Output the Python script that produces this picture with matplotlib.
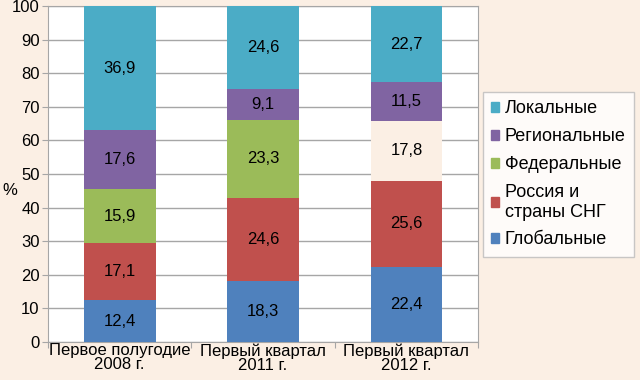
import matplotlib
matplotlib.use('Agg')
from matplotlib import pyplot as plt
from matplotlib.patches import Patch
import numpy as np

plt.rcParams['font.family'] = ['Liberation Sans', 'DejaVu Sans']

categories = ['Первое полугодие\n2008 г.', 'Первый квартал\n2011 г.', 'Первый квартал\n2012 г.']
series_names = ['Глобальные', 'Россия и\nстраны СНГ', 'Федеральные', 'Региональные', 'Локальные']
global_vals = [12.4, 18.3, 22.4]
russia_vals = [17.1, 24.6, 25.6]
federal_vals = [15.9, 23.3, 17.8]
regional_vals = [17.6, 9.1, 11.5]
local_vals = [36.9, 24.6, 22.7]
series = [global_vals, russia_vals, federal_vals, regional_vals, local_vals]

colors = ['#4F81BD', '#C0504D', '#9BBB59', '#8064A2', '#4BACC6']
bg = '#FBEFE4'
grid_c = '#A6A6A6'
fs = 12

fig = plt.figure(figsize=(6.4, 3.8), dpi=100, facecolor=bg)
ax = fig.add_axes([0.075, 0.1, 0.672, 0.884])
ax.set_facecolor('white')

x = np.arange(len(categories))
bottom = np.zeros(len(categories))
for i, vals in enumerate(series):
    bc = [colors[i]] * len(categories)
    if i == 2:
        bc[2] = bg  # washed-out segment in the source picture
    ax.bar(x, vals, width=0.5, bottom=bottom, color=bc, zorder=3)
    for xi, b, v in zip(x, bottom, vals):
        ax.text(xi, b + v / 2, ('%.1f' % v).replace('.', ','), ha='center', va='center',
                fontsize=fs, color='black', zorder=4)
    bottom += np.array(vals)

ax.set_xlim(-0.5, 2.5)
ax.set_ylim(0, 100)
ax.set_yticks(range(0, 101, 10))
ax.yaxis.grid(True, color=grid_c, lw=1, zorder=0)
ax.set_xticks([-0.5, 0.5, 1.5, 2.5])
ax.set_xticklabels([])
ax.set_xticks(x, minor=True)
ax.set_xticklabels(categories, minor=True, fontsize=fs, linespacing=0.9)
ax.tick_params(axis='x', which='minor', length=0, pad=1)
ax.tick_params(axis='x', which='major', length=4, color=grid_c, direction='out')
ax.tick_params(axis='y', length=4, color=grid_c, labelsize=fs, pad=2)
for s in ax.spines.values():
    s.set_color(grid_c)
ax.set_ylabel('%', fontsize=fs, rotation=0, va='center', ha='center')
ax.yaxis.set_label_coords(-0.088, 0.45)

leg_handles = [Patch(color=c) for c in colors][::-1]
leg = fig.legend(leg_handles, series_names[::-1], loc='upper left',
                 bbox_to_anchor=(0.755, 0.757), fontsize=13, frameon=True,
                 fancybox=False, edgecolor='#BBBBBB', handlelength=0.45, handleheight=0.45,
                 handletextpad=0.3, labelspacing=0.6, borderpad=0.45, borderaxespad=0)
leg.get_frame().set_facecolor('white')

fig.savefig('out.png', dpi=100, facecolor=bg)
